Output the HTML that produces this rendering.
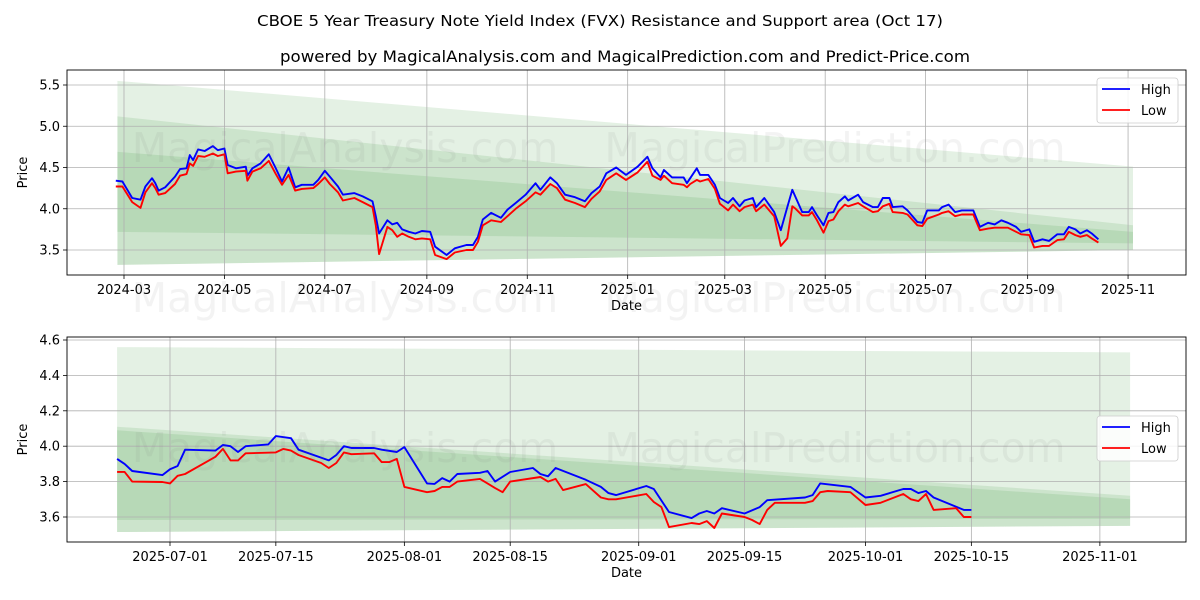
<!DOCTYPE html>
<html><head><meta charset="utf-8"><style>
body{margin:0;background:#fff}
svg{display:block;font-family:"DejaVu Sans","Liberation Sans",sans-serif}
</style></head><body>
<svg id="chart" width="1200" height="600" viewBox="0 0 1200 600" xmlns="http://www.w3.org/2000/svg">
<rect width="1200" height="600" fill="#fff"/>
<text x="600" y="26" text-anchor="middle" font-size="15" textLength="686" lengthAdjust="spacingAndGlyphs">CBOE 5 Year Treasury Note Yield Index (FVX) Resistance and Support area (Oct 17)</text>
<text x="625" y="62" text-anchor="middle" font-size="16" textLength="690" lengthAdjust="spacingAndGlyphs">powered by MagicalAnalysis.com and MagicalPrediction.com and Predict-Price.com</text>
<g id="top"></g><g id="bottom"></g>
<g fill="rgba(120,120,120,0.09)" font-size="41">
<text x="345" y="162" text-anchor="middle">MagicalAnalysis.com</text>
<text x="835" y="162" text-anchor="middle">MagicalPrediction.com</text>
<text x="345" y="312" text-anchor="middle">MagicalAnalysis.com</text>
<text x="835" y="312" text-anchor="middle">MagicalPrediction.com</text>
<text x="345" y="462" text-anchor="middle">MagicalAnalysis.com</text>
<text x="835" y="462" text-anchor="middle">MagicalPrediction.com</text>
</g>
</svg>
<script>
// ---- top chart data (days since 2024-03-01) ----
const topDays=[-5,-1,5,10,13,17,19,21,25,31,34,38,40,42,45,49,54,57,61,63,68,74,75,78,83,88,92,96,100,104,108,115,118,122,125,130,133,140,145,151,153,155,160,163,166,169,173,177,181,186,189,196,201,208,212,215,218,223,229,233,238,244,250,253,259,263,268,274,280,284,289,293,299,305,312,318,321,326,328,333,340,342,344,348,350,355,359,362,367,370,374,377,382,384,389,395,399,403,406,408,412,416,418,421,425,428,431,434,438,440,446,449,455,458,461,465,467,473,476,482,485,488,495,497,501,505,509,516,520,525,529,533,537,542,545,550,553,558,562,567,571,574,578,581,585,588,592];
const topHigh=[4.34,4.33,4.13,4.11,4.27,4.37,4.31,4.22,4.26,4.39,4.48,4.49,4.65,4.59,4.72,4.70,4.76,4.71,4.73,4.53,4.49,4.51,4.40,4.49,4.55,4.66,4.50,4.33,4.50,4.26,4.29,4.29,4.35,4.46,4.39,4.27,4.17,4.19,4.15,4.09,3.91,3.70,3.86,3.81,3.83,3.75,3.72,3.70,3.73,3.72,3.54,3.44,3.52,3.56,3.56,3.66,3.87,3.95,3.89,3.99,4.07,4.17,4.31,4.23,4.38,4.31,4.17,4.14,4.09,4.19,4.27,4.43,4.50,4.41,4.51,4.63,4.49,4.38,4.47,4.38,4.38,4.31,4.37,4.49,4.41,4.41,4.29,4.13,4.07,4.13,4.03,4.10,4.13,4.02,4.13,3.96,3.74,4.02,4.23,4.14,3.96,3.96,4.02,3.92,3.80,3.95,3.96,4.08,4.15,4.10,4.17,4.08,4.02,4.02,4.13,4.13,4.02,4.03,3.98,3.84,3.83,3.98,3.98,4.02,4.05,3.96,3.98,3.98,3.78,3.83,3.81,3.86,3.83,3.78,3.72,3.75,3.60,3.63,3.61,3.69,3.69,3.78,3.75,3.70,3.74,3.70,3.63];
const topLow=[4.27,4.27,4.08,4.01,4.20,4.31,4.25,4.17,4.19,4.30,4.40,4.42,4.55,4.52,4.64,4.63,4.67,4.64,4.66,4.43,4.45,4.46,4.34,4.45,4.49,4.58,4.43,4.29,4.41,4.22,4.24,4.25,4.30,4.38,4.30,4.20,4.10,4.13,4.08,4.02,3.80,3.45,3.78,3.74,3.66,3.70,3.66,3.63,3.64,3.63,3.44,3.39,3.47,3.50,3.50,3.60,3.80,3.86,3.84,3.91,4.00,4.09,4.20,4.17,4.30,4.25,4.11,4.07,4.02,4.12,4.21,4.35,4.43,4.35,4.44,4.57,4.40,4.35,4.40,4.31,4.29,4.26,4.30,4.35,4.33,4.36,4.24,4.06,3.98,4.05,3.97,4.02,4.05,3.97,4.05,3.91,3.55,3.64,4.03,4.00,3.92,3.92,3.96,3.86,3.71,3.85,3.87,3.97,4.05,4.03,4.07,4.03,3.96,3.97,4.03,4.06,3.96,3.95,3.93,3.80,3.79,3.88,3.93,3.95,3.97,3.91,3.93,3.93,3.74,3.76,3.77,3.77,3.77,3.72,3.69,3.68,3.53,3.55,3.55,3.62,3.63,3.72,3.68,3.66,3.68,3.64,3.59];
const topYTicks=[3.5,4.0,4.5,5.0,5.5];
const topXTicks=["2024-03","2024-05","2024-07","2024-09","2024-11","2025-01","2025-03","2025-05","2025-07","2025-09","2025-11"];
const topXTickDays=[0,61,122,184,245,306,365,426,487,549,610];
// bands: [upperStart, upperEnd, lowerStart, lowerEnd]
const topBandA=[5.55,4.51,3.32,3.50];
const topBandB=[5.12,3.80,3.32,3.50];
const topBandC=[4.69,3.72,3.72,3.58];
const topBandDays=[-4,613];

// ---- bottom chart data (days since 2025-07-01) ----
const botHighDays=[-7,-6,-5,-1,0,1,2,6,7,8,9,10,13,14,16,17,21,22,23,24,27,28,30,31,34,35,36,37,38,41,42,43,45,48,49,50,51,55,57,58,59,63,64,66,69,70,71,72,73,76,78,79,84,85,86,90,92,94,97,98,99,100,101,105,106];
const botHigh=[3.928,3.90,3.86,3.837,3.87,3.888,3.98,3.975,4.007,4.0,3.967,4.0,4.01,4.057,4.045,3.98,3.92,3.95,4.0,3.99,3.99,3.98,3.967,3.995,3.79,3.787,3.82,3.80,3.843,3.85,3.86,3.80,3.854,3.877,3.843,3.83,3.877,3.81,3.77,3.735,3.724,3.775,3.758,3.628,3.594,3.62,3.634,3.62,3.65,3.62,3.656,3.695,3.71,3.724,3.79,3.77,3.71,3.72,3.758,3.758,3.735,3.747,3.71,3.64,3.64];
const botLowDays=[-7,-6,-5,-1,0,1,2,6,7,8,9,10,14,15,16,17,20,21,22,23,24,27,28,29,30,31,34,35,36,37,38,41,42,43,44,45,49,50,51,52,55,57,58,59,63,64,65,66,69,70,71,72,73,76,77,78,79,80,84,85,86,87,90,92,94,97,98,99,100,101,104,105,106];
const botLow=[3.855,3.855,3.80,3.798,3.79,3.833,3.843,3.94,3.985,3.92,3.92,3.96,3.965,3.985,3.975,3.95,3.905,3.877,3.905,3.965,3.955,3.96,3.91,3.91,3.928,3.77,3.74,3.747,3.77,3.77,3.80,3.815,3.79,3.763,3.74,3.80,3.826,3.80,3.815,3.752,3.786,3.71,3.70,3.70,3.73,3.685,3.656,3.543,3.566,3.56,3.577,3.538,3.62,3.60,3.583,3.56,3.64,3.68,3.68,3.69,3.74,3.747,3.74,3.668,3.68,3.73,3.70,3.69,3.73,3.64,3.65,3.60,3.60];
const botYTicks=[3.6,3.8,4.0,4.2,4.4,4.6];
const botXTicks=["2025-07-01","2025-07-15","2025-08-01","2025-08-15","2025-09-01","2025-09-15","2025-10-01","2025-10-15","2025-11-01"];
const botXTickDays=[0,14,31,45,62,76,92,106,123];
const botBandA=[4.56,4.53,3.515,3.55];
const botBandB=[4.11,3.72,3.515,3.55];
const botBandC=[4.09,3.70,3.583,3.59];
const botBandDays=[-7,127];

const NS="http://www.w3.org/2000/svg";
function mk(parent,tag,attrs){const e=document.createElementNS(NS,tag);for(const k in attrs)e.setAttribute(k,attrs[k]);parent.appendChild(e);return e;}

function drawPanel(g,o){
  const X=d=>o.x0+(d-o.d0)*o.pxDay;
  const Y=v=>o.yRef-(v-o.vRef)*o.pxVal;
  [o.bA,o.bB,o.bC].forEach((b,i)=>{
    const d1=o.bDays[0],d2=o.bDays[1];
    const p=mk(g,'polygon',{points:`${X(d1)},${Y(b[0])} ${X(d2)},${Y(b[1])} ${X(d2)},${Y(b[3])} ${X(d1)},${Y(b[2])}`,fill:'rgba(46,150,44,0.13)'});
    
    
  });
  o.yTicks.forEach(v=>{
    const l=mk(g,'line',{x1:o.L,x2:o.R,y1:Y(v),y2:Y(v),stroke:'#b0b0b0','stroke-width':0.8});
    
    
    mk(g,'line',{x1:o.L-4,x2:o.L,y1:Y(v),y2:Y(v),stroke:'#000','stroke-width':0.8});
    const t=mk(g,'text',{x:o.L-7,y:Y(v)+4.5,'text-anchor':'end','font-size':13});
    t.textContent=v.toFixed(1);
    
    
  });
  o.xTicks.forEach((lab,i)=>{
    const x=X(o.xTickDays[i]);
    const l=mk(g,'line',{x1:x,x2:x,y1:o.T,y2:o.B,stroke:'#b0b0b0','stroke-width':0.8});
    
    
    mk(g,'line',{x1:x,x2:x,y1:o.B,y2:o.B+4,stroke:'#000','stroke-width':0.8});
    const t=mk(g,'text',{x:x,y:o.B+19,'text-anchor':'middle','font-size':13});
    t.textContent=lab;
    
    
  });
  const line=(days,vals,color,name)=>{
    const pts=days.map((d,i)=>X(d).toFixed(1)+','+Y(vals[i]).toFixed(1)).join(' ');
    const p=mk(g,'polyline',{points:pts,fill:'none',stroke:color,'stroke-width':1.9,'stroke-linejoin':'round'});
    
    
  };
  line(o.hDays,o.hVals,'#0000ff','high-line');
  line(o.lDays,o.lVals,'#ff0000','low-line');
  const f=mk(g,'rect',{x:o.L,y:o.T,width:o.R-o.L,height:o.B-o.T,fill:'none',stroke:'#000','stroke-width':0.9});
  
  
  const yt=mk(g,'text',{x:0,y:0,'text-anchor':'middle','font-size':13,transform:`translate(27,${(o.T+o.B)/2}) rotate(-90)`});
  yt.textContent='Price';
  
  
  const xt=mk(g,'text',{x:(o.L+o.R)/2,y:o.B+35,'text-anchor':'middle','font-size':13});
  xt.textContent='Date';
  
  
  const lg=mk(g,'g',{});
  
  
  mk(lg,'rect',{x:1097,y:o.legY,width:81,height:45,rx:3,fill:'rgba(255,255,255,0.85)',stroke:'#ccc','stroke-width':0.8});
  [['High','#0000ff'],['Low','#ff0000']].forEach((e,i)=>{
    const yy=o.legY+11+i*21;
    const it=mk(lg,'g',{});
    
    
    mk(it,'line',{x1:1102,x2:1130,y1:yy,y2:yy,stroke:e[1],'stroke-width':1.8});
    const t=mk(it,'text',{x:1141,y:yy+5,'font-size':13});
    t.textContent=e[0];
  });
}

drawPanel(document.getElementById('top'),{L:67,R:1186,T:70,B:275,x0:124,d0:0,pxDay:1.646,yRef:250,vRef:3.5,pxVal:82.5,
  bA:topBandA,bB:topBandB,bC:topBandC,bDays:topBandDays,yTicks:topYTicks,xTicks:topXTicks,xTickDays:topXTickDays,
  hDays:topDays,hVals:topHigh,lDays:topDays,lVals:topLow,legY:78});
drawPanel(document.getElementById('bottom'),{L:67,R:1186,T:337,B:542,x0:170,d0:0,pxDay:7.56,yRef:517,vRef:3.6,pxVal:177,
  bA:botBandA,bB:botBandB,bC:botBandC,bDays:botBandDays,yTicks:botYTicks,xTicks:botXTicks,xTickDays:botXTickDays,
  hDays:botHighDays,hVals:botHigh,lDays:botLowDays,lVals:botLow,legY:416});
</script>
</body></html>
